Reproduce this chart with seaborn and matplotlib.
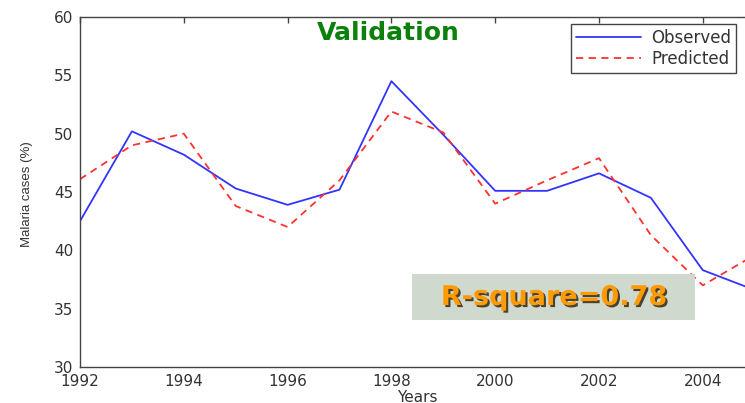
import matplotlib
matplotlib.use("Agg")
import matplotlib.pyplot as plt
import matplotlib.patheffects as pe
from matplotlib.patches import Rectangle
import numpy as np
import pandas as pd
import seaborn as sns

# Annual malaria cases (%) — observed vs. model prediction
years = [1992, 1993, 1994, 1995, 1996, 1997, 1998, 1999, 2000, 2001, 2002, 2003, 2004, 2005]
observed = [42.5, 50.2, 48.2, 45.3, 43.9, 45.2, 54.5, 49.9, 45.1, 45.1, 46.6, 44.5, 38.3, 36.6]
predicted = [46.1, 49.0, 50.0, 43.8, 42.0, 46.0, 51.9, 50.1, 44.0, 46.0, 47.9, 41.3, 37.0, 39.6]
series_names = ["Observed", "Predicted"]
x_ticks = [1992, 1994, 1996, 1998, 2000, 2002, 2004]
y_ticks = [30, 35, 40, 45, 50, 55, 60]
r_square = 0.78

df = pd.concat([
    pd.DataFrame({"Year": years, "Cases": observed, "Series": series_names[0]}),
    pd.DataFrame({"Year": years, "Cases": predicted, "Series": series_names[1]}),
])

sns.set_style("white")
plt.rcParams["font.family"] = ["DejaVu Sans"]

W, H = 745, 403
fig = plt.figure(figsize=(W / 100, H / 100), dpi=100)
ax = fig.add_axes([80 / W, 36 / H, 674.7 / W, 350 / H])

sns.lineplot(
    data=df, x="Year", y="Cases", hue="Series", style="Series",
    palette={"Observed": "#3333ff", "Predicted": "#ff3030"},
    dashes={"Observed": "", "Predicted": (4, 3)},
    linewidth=1.3, legend=False, ax=ax,
)

ax.set_xlim(1992, 2005)
ax.set_ylim(30, 60)
ax.set_xticks(x_ticks)
ax.set_yticks(y_ticks)
ax.set_xlabel("")
ax.set_ylabel("")
ax.tick_params(direction="in", top=True, right=True, length=4, width=1,
               color="#444444", labelcolor="#333333", labelsize=11, pad=5)
for s in ax.spines.values():
    s.set_color("#444444")
    s.set_linewidth(1.0)

# legend
handles = ax.lines[:2]
leg = ax.legend(handles, series_names, loc="upper left",
                bbox_to_anchor=(571 / W, 1 - 24 / H), bbox_transform=fig.transFigure,
                borderaxespad=0, fancybox=False, framealpha=1, edgecolor="#444444",
                fontsize=12, handlelength=3.9, handletextpad=0.6, labelspacing=0.18,
                borderpad=0.3)
leg.get_frame().set_linewidth(1.0)
for t in leg.get_texts():
    t.set_color("#333333")

# title
fig.text(388 / W, 1 - 33 / H, "Validation", ha="center", va="center",
         fontsize=18, fontweight="bold", color="#0b800b")

# axis labels
fig.text(417 / W, 1 - 397 / H, "Years", ha="center", va="center",
         fontsize=11, color="#333333")
fig.text(27 / W, 1 - 194 / H, "Malaria cases (%)", ha="center", va="center",
         rotation=90, fontsize=9.5, color="#333333", family=["Liberation Sans", "DejaVu Sans"])

# goodness-of-fit box
fig.patches.append(Rectangle((412 / W, 83 / H), 283 / W, 46 / H,
                             transform=fig.transFigure, facecolor="#cfd9ce",
                             edgecolor="none", zorder=5))
fig.text(554 / W, 1 - 298 / H, f"R-square={r_square:.2f}", ha="center", va="center",
         fontsize=19.5, fontweight="bold", color="#ff9a00", zorder=6,
         path_effects=[pe.withSimplePatchShadow(offset=(1.5, -1.5), shadow_rgbFace="#3a3020", alpha=0.9)])

fig.savefig("out.png", dpi=100)
